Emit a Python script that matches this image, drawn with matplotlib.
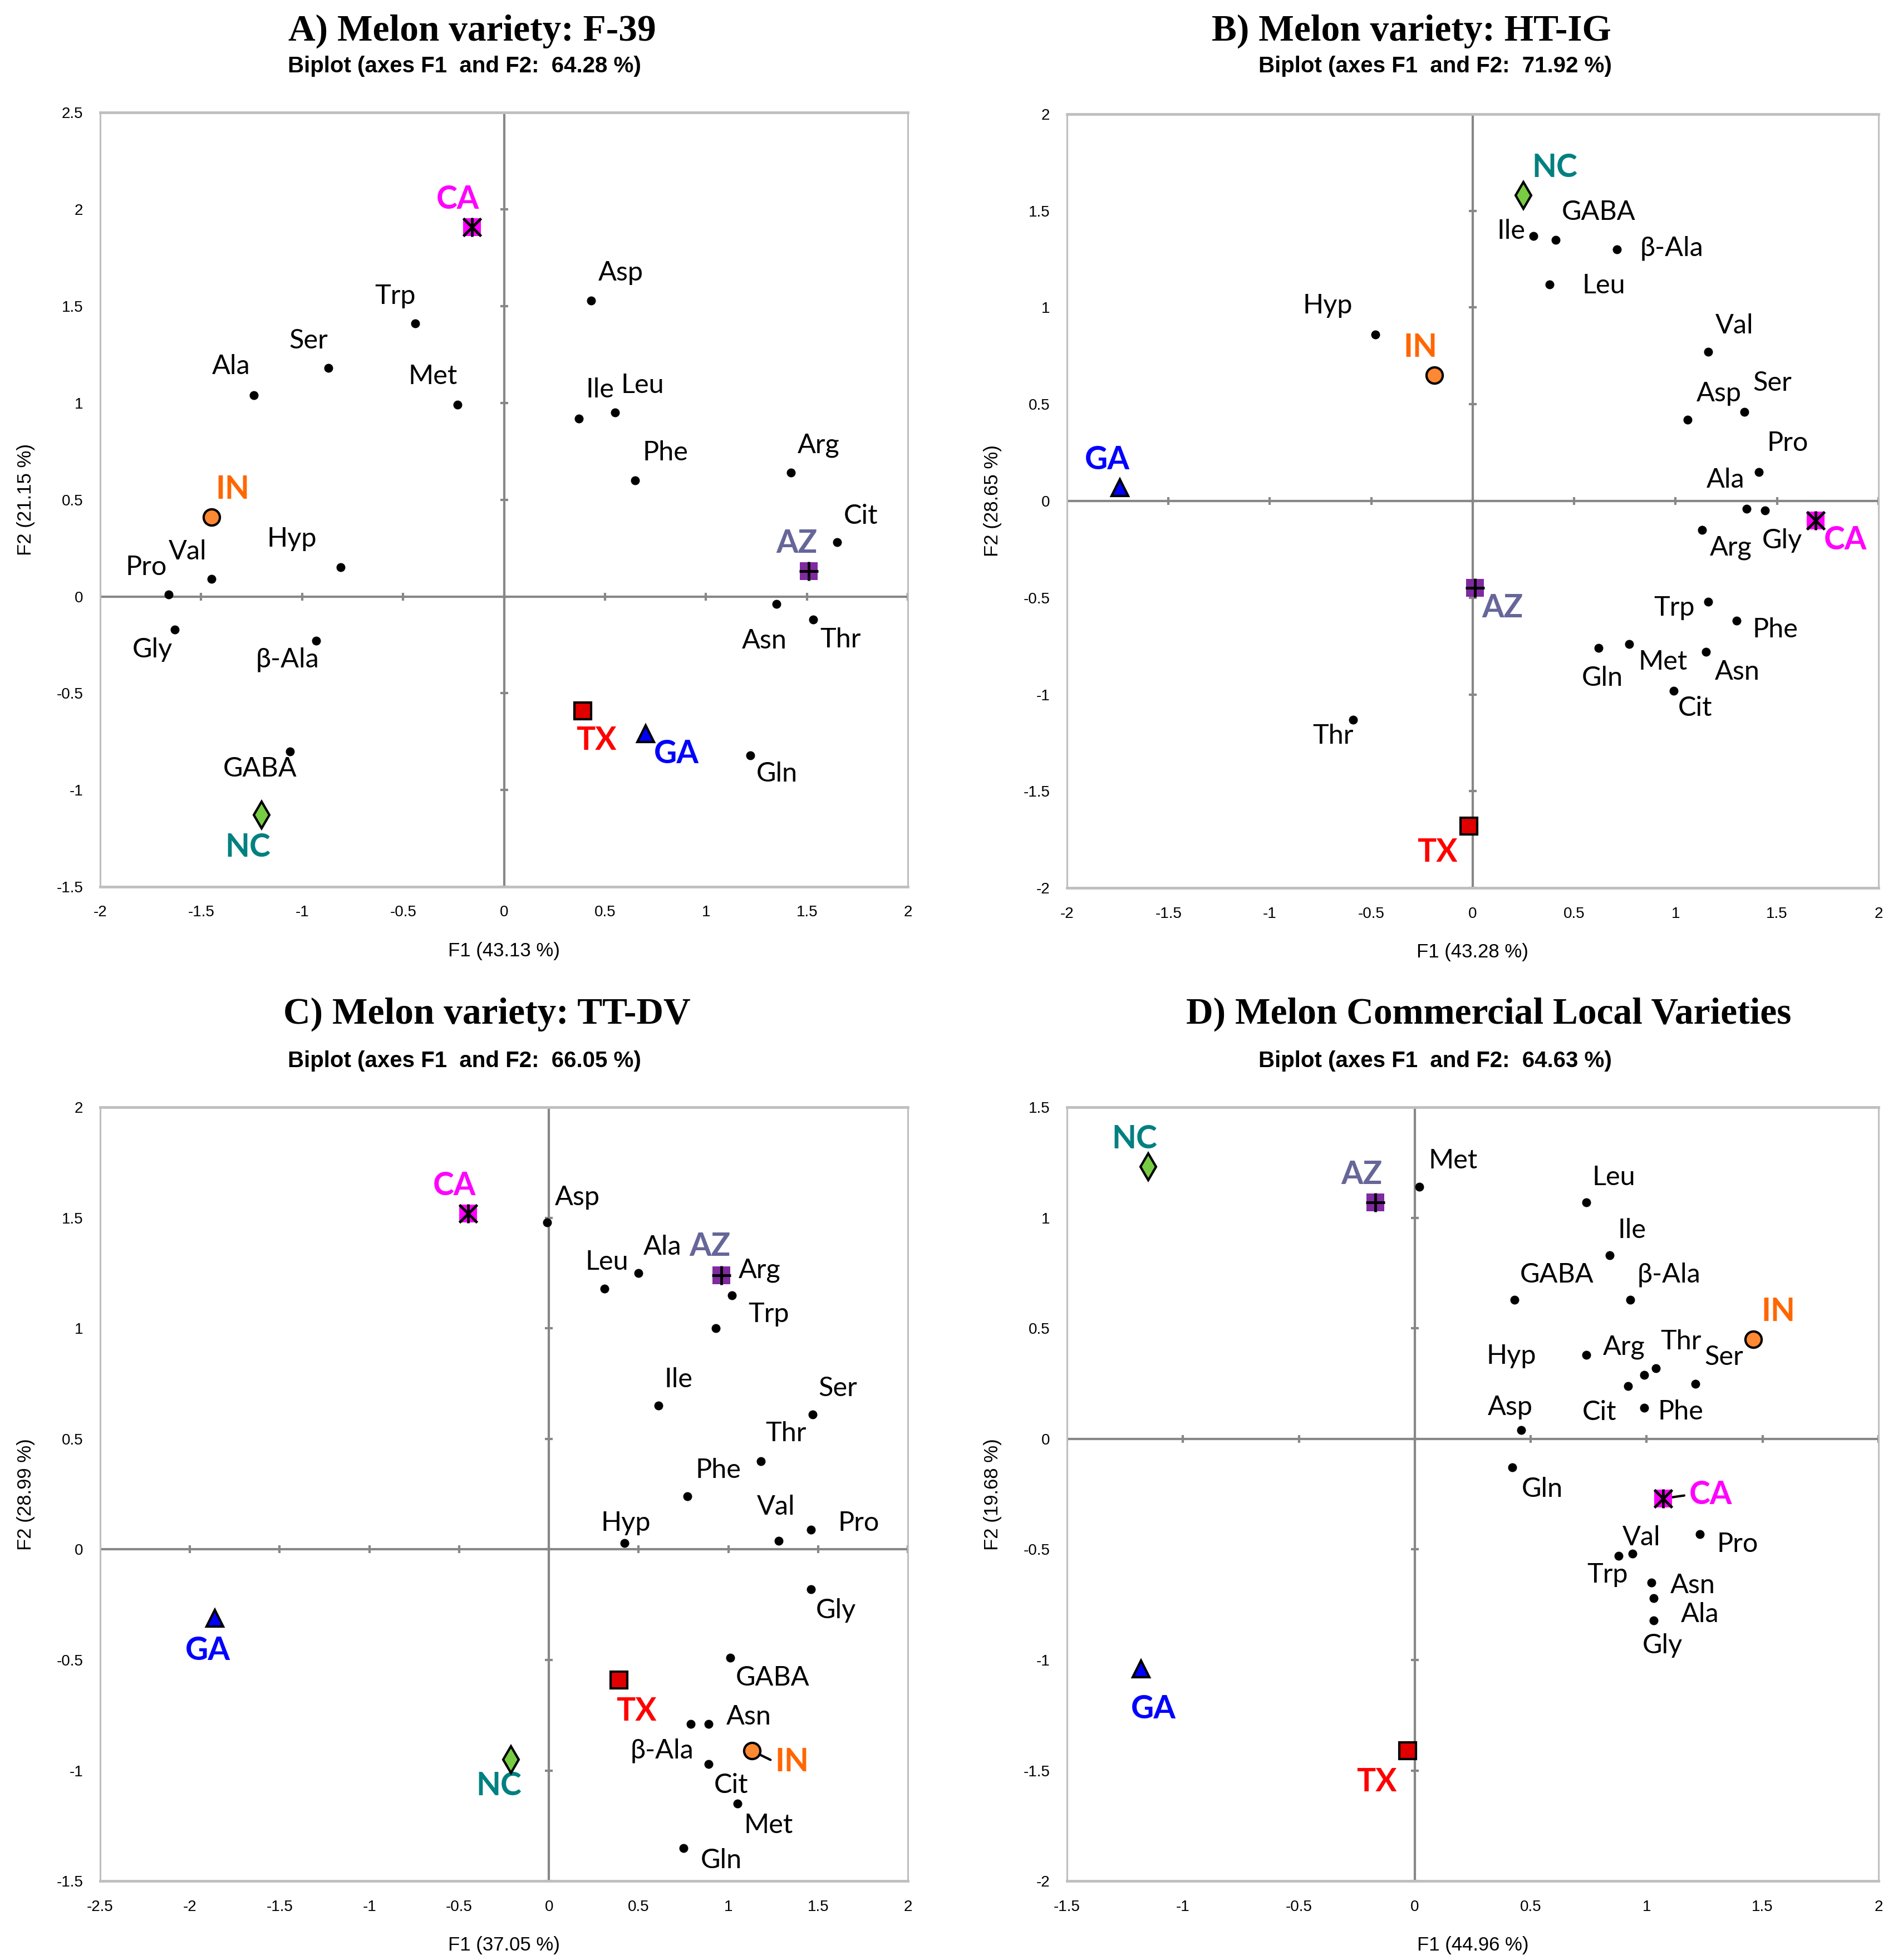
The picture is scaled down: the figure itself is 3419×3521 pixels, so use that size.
import numpy as np
import matplotlib
matplotlib.use("Agg")
import matplotlib.pyplot as plt

# amino acids (variables) - same order in every panel
amino = ['Asp', 'Trp', 'Ser', 'Ala', 'Met', 'Ile', 'Leu', 'Phe', 'Arg', 'Cit',
         'Hyp', 'Val', 'Pro', 'Gly', 'β-Ala', 'Asn', 'Thr', 'Gln', 'GABA']
# cultivation sites (observations)
sites = ['CA', 'AZ', 'IN', 'GA', 'TX', 'NC']

# panel A: F-39
a_var_x = [0.43, -0.44, -0.87, -1.24, -0.23, 0.37, 0.55, 0.65, 1.42, 1.65,
           -0.81, -1.45, -1.66, -1.63, -0.93, 1.35, 1.53, 1.22, -1.06]
a_var_y = [1.53, 1.41, 1.18, 1.04, 0.99, 0.92, 0.95, 0.60, 0.64, 0.28,
           0.15, 0.09, 0.01, -0.17, -0.23, -0.04, -0.12, -0.82, -0.80]
a_site_x = [-0.16, 1.51, -1.45, 0.70, 0.39, -1.20]
a_site_y = [1.91, 0.13, 0.41, -0.71, -0.59, -1.13]

# panel B: HT-IG
b_var_x = [1.06, 1.16, 1.34, 1.35, 0.77, 0.30, 0.38, 1.30, 1.13, 0.99,
           -0.48, 1.16, 1.41, 1.44, 0.71, 1.15, -0.59, 0.62, 0.41]
b_var_y = [0.42, -0.52, 0.46, -0.04, -0.74, 1.37, 1.12, -0.62, -0.15, -0.98,
           0.86, 0.77, 0.15, -0.05, 1.30, -0.78, -1.13, -0.76, 1.35]
b_site_x = [1.69, 0.01, -0.19, -1.74, -0.02, 0.25]
b_site_y = [-0.10, -0.45, 0.65, 0.07, -1.68, 1.58]

# panel C: TT-DV
c_var_x = [-0.01, 0.93, 1.47, 0.50, 1.05, 0.61, 0.31, 0.77, 1.02, 0.89,
           0.42, 1.28, 1.46, 1.46, 0.79, 0.89, 1.18, 0.75, 1.01]
c_var_y = [1.48, 1.00, 0.61, 1.25, -1.15, 0.65, 1.18, 0.24, 1.15, -0.97,
           0.03, 0.04, 0.09, -0.18, -0.79, -0.79, 0.40, -1.35, -0.49]
c_site_x = [-0.45, 0.96, 1.13, -1.86, 0.39, -0.21]
c_site_y = [1.52, 1.24, -0.91, -0.31, -0.59, -0.95]

# panel D: commercial local varieties
d_var_x = [0.46, 0.88, 1.21, 1.03, 0.02, 0.84, 0.74, 0.99, 0.99, 0.92,
           0.74, 0.94, 1.23, 1.03, 0.93, 1.02, 1.04, 0.42, 0.43]
d_var_y = [0.04, -0.53, 0.25, -0.72, 1.14, 0.83, 1.07, 0.14, 0.29, 0.24,
           0.38, -0.52, -0.43, -0.82, 0.63, -0.65, 0.32, -0.13, 0.63]
d_site_x = [1.07, -0.17, 1.46, -1.18, -0.03, -1.15]
d_site_y = [-0.27, 1.07, 0.45, -1.04, -1.41, 1.23]

titles = ['A) Melon variety: F-39', 'B) Melon variety: HT-IG',
          'C) Melon variety: TT-DV', 'D) Melon Commercial Local Varieties']
inertia = ['64.28', '71.92', '66.05', '64.63']
f1_pct = ['43.13', '43.28', '37.05', '44.96']
f2_pct = ['21.15', '28.65', '28.99', '19.68']
x_ticks = [np.arange(-2, 2.01, 0.5), np.arange(-2, 2.01, 0.5),
           np.arange(-2.5, 2.01, 0.5), np.arange(-1.5, 2.01, 0.5)]
y_ticks = [np.arange(-1.5, 2.51, 0.5), np.arange(-2, 2.01, 0.5),
           np.arange(-1.5, 2.01, 0.5), np.arange(-2, 1.51, 0.5)]

# ---- layout / style (measured on a half-size preview, P = px per preview px)
W, H, P = 3419, 3521, 3419 / 1519.6
boxes = [(80, 90, 725, 708), (852, 91, 1500, 709),
         (80, 884, 725, 1502), (852, 884, 1500, 1502)]
title_pos = [(377, 25), (1127, 25), (389, 810), (1189, 810)]
sub_pos = [(371, 53), (1146, 53), (371, 847), (1146, 847)]

var_off = [
    [(24, -22), (-16, -22), (-16, -22), (-18, -23), (-20, -23), (17, -23), (22, -22),
     (24, -22), (22, -22), (19, -21), (-39, -23), (-19, -22), (-18, -22), (-18, 16),
     (-23, 15), (-10, 29), (22, 16), (21, 15), (-24, 14)],
    [(25, -21), (-27, 5), (22, -23), (-17, -23), (27, 14), (-18, -4), (43, 1),
     (31, 7), (23, 14), (17, 14), (-38, -23), (21, -21), (23, -23), (14, 24),
     (44, -1), (25, 16), (-16, 13), (3, 24), (34, -22)],
    [(24, -20), (42, -11), (20, -21), (19, -21), (25, 17), (16, -21), (2, -21),
     (25, -21), (22, -20), (18, 17), (1, -16), (-2, -27), (38, -5), (20, 17),
     (-23, 21), (32, -6), (20, -22), (30, 10), (34, 16)],
    [(-9, -18), (-9, 15), (23, -21), (37, 13), (27, -21), (18, -20), (22, -20),
     (29, 3), (-16, -22), (-23, 21), (-60, 1), (7, -13), (30, 8), (7, 20),
     (31, -20), (33, 2), (20, -21), (24, 17), (34, -20)],
]
site_off = [
    [(-11, -22), (-10, -22), (17, -22), (25, 16), (11, 24), (-11, 26)],
    [(24, 16), (22, 16), (-11, -22), (-10, -22), (-25, 21), (25, -22)],
    [(-11, -22), (-9, -23), (32, 9), (-6, 26), (14, 25), (-10, 21)],
    [(38, -3), (-11, -22), (20, -22), (10, 32), (-25, 25), (-11, -22)],
]
leaders = [[], [], ['IN'], ['CA']]

site_label_col = {'CA': '#FF00FF', 'AZ': '#666699', 'IN': '#FF6600',
                  'GA': '#0000FF', 'TX': '#FF0000', 'NC': '#008080'}
site_marker = {'CA': dict(marker='s', ms=23, mfc='#FF00FF', mec='#FF00FF', mew=0),
               'AZ': dict(marker='s', ms=23, mfc='#7F2A9F', mec='#7F2A9F', mew=0),
               'IN': dict(marker='o', ms=21, mfc='#FF8833', mec='black', mew=3),
               'GA': dict(marker='^', ms=22, mfc='#0000FF', mec='black', mew=3),
               'TX': dict(marker='s', ms=21, mfc='#E00000', mec='black', mew=3),
               'NC': dict(marker='d', ms=24, mfc='#77CC44', mec='black', mew=3)}

label_font = ['Lato', 'DejaVu Sans']
tick_font = ['Liberation Sans Narrow', 'Liberation Sans', 'DejaVu Sans']

panels = [(a_var_x, a_var_y, a_site_x, a_site_y),
          (b_var_x, b_var_y, b_site_x, b_site_y),
          (c_var_x, c_var_y, c_site_x, c_site_y),
          (d_var_x, d_var_y, d_site_x, d_site_y)]

fig = plt.figure(figsize=(W / 100, H / 100), dpi=100)

for i, (vx, vy, sx, sy) in enumerate(panels):
    x0, y0, x1, y1 = boxes[i]
    ax = fig.add_axes([x0 * P / W, 1 - y1 * P / H, (x1 - x0) * P / W, (y1 - y0) * P / H])
    xt, yt = x_ticks[i], y_ticks[i]
    ax.set_xlim(xt[0], xt[-1])
    ax.set_ylim(yt[0], yt[-1])
    ax.set_xticks(xt)
    ax.set_yticks(yt)
    ax.set_xticklabels([f'{v:g}' for v in xt], family=tick_font, fontsize=20)
    ax.set_yticklabels([f'{v:g}' for v in yt], family=tick_font, fontsize=20)
    ax.tick_params(length=0)
    ax.tick_params(axis='x', pad=24)
    ax.tick_params(axis='y', pad=22)
    for s in ax.spines.values():
        s.set_color('#BFBFBF')
        s.set_linewidth(2.2)
    ax.spines['top'].set_linewidth(3.5)
    ax.spines['bottom'].set_linewidth(3.5)

    # zero axes with small ticks
    ax.axhline(0, color='#878787', lw=3, zorder=1)
    ax.axvline(0, color='#878787', lw=3, zorder=1)
    ax.plot(xt, np.zeros_like(xt), ls='none', marker='|', ms=10, mew=3, color='#878787', zorder=1)
    ax.plot(np.zeros_like(yt), yt, ls='none', marker='_', ms=10, mew=3, color='#878787', zorder=1)

    # variables
    ax.plot(vx, vy, ls='none', marker='o', ms=10.5, color='black', zorder=3)
    for name, x, y, (dx, dy) in zip(amino, vx, vy, var_off[i]):
        ax.annotate(name, (x, y), xytext=(dx * P, -dy * P), textcoords='offset pixels',
                    ha='center', va='center', fontsize=35, family=label_font)

    # sites
    for name, x, y, (dx, dy) in zip(sites, sx, sy, site_off[i]):
        ax.plot([x], [y], ls='none', zorder=4, **site_marker[name])
        if name == 'CA':
            ax.plot([x], [y], ls='none', marker='x', ms=23, mew=3.5, color='black', zorder=5)
            ax.plot([x], [y], ls='none', marker='|', ms=25, mew=3.5, color='black', zorder=5)
        if name == 'AZ':
            ax.plot([x], [y], ls='none', marker='+', ms=25, mew=3.5, color='black', zorder=5)
        arrow = None
        if name in leaders[i]:
            arrow = dict(arrowstyle='-', color='black', lw=3, shrinkA=4, shrinkB=0,
                         relpos=(0, 0.5))
        ax.annotate(name, (x, y), xytext=(dx * P, -dy * P), textcoords='offset pixels',
                    ha='center', va='center', fontsize=41, fontweight='bold',
                    color=site_label_col[name], family=label_font, arrowprops=arrow)

    ax.set_xlabel(f'F1 ({f1_pct[i]} %)', family=tick_font, fontsize=25)
    ax.set_ylabel(f'F2 ({f2_pct[i]} %)', family=tick_font, fontsize=25)
    ax.xaxis.set_label_coords(0.5, -44 / (y1 - y0))
    ax.yaxis.set_label_coords(-52 / (x1 - x0), 0.5)

    tx, ty = title_pos[i]
    fig.text(tx * P / W, 1 - ty * P / H, titles[i], ha='center', va='center',
             family=['Liberation Serif', 'DejaVu Serif'], fontweight='bold', fontsize=48.5)
    sxp, syp = sub_pos[i]
    fig.text(sxp * P / W, 1 - syp * P / H, f'Biplot (axes F1  and F2:  {inertia[i]} %)',
             ha='center', va='center', family=['Liberation Sans', 'DejaVu Sans'],
             fontweight='bold', fontsize=29)

fig.savefig('out.png', dpi=100, facecolor='white')
